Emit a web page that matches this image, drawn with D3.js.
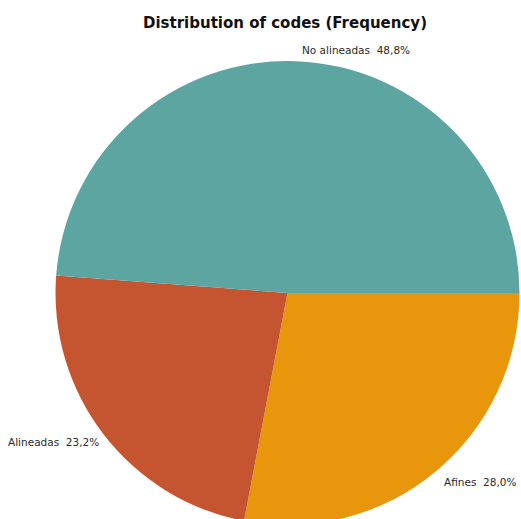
<!DOCTYPE html>
<html>
<head>
<meta charset="utf-8">
<script src="https://cdn.jsdelivr.net/npm/d3@7/dist/d3.min.js"></script>
<style>
  html, body { margin: 0; padding: 0; background: #ffffff; }
  svg { display: block; }
</style>
</head>
<body>
<svg id="chart" width="521" height="519"></svg>
<script>
// Slice data, in drawing order (clockwise from 3 o'clock)
const categories = ["Afines", "Alineadas", "No alineadas"];
const percentages = [28.0, 23.2, 48.8];
const sliceColors = ["#E8960C", "#C55431", "#5CA5A0"];
const chartTitle = "Distribution of codes (Frequency)";

const svg = d3.select("#chart");
const cx = 287.5, cy = 293, radius = 232;

const pie = d3.pie()
  .sort(null)
  .value(d => d.value)
  .startAngle(Math.PI / 2)
  .endAngle(Math.PI / 2 + 2 * Math.PI);

const data = categories.map((c, i) => ({ name: c, value: percentages[i], color: sliceColors[i] }));
const arcs = pie(data);
const arc = d3.arc().innerRadius(0).outerRadius(radius);

const g = svg.append("g").attr("transform", `translate(${cx},${cy})`);
g.selectAll("path.slice")
  .data(arcs)
  .enter().append("path")
  .attr("class", "slice")
  .attr("d", arc)
  .attr("fill", d => d.data.color);

// Title
svg.append("text")
  .attr("x", 285)
  .attr("y", 28)
  .attr("text-anchor", "middle")
  .attr("font-family", "DejaVu Sans, Verdana, sans-serif")
  .attr("font-weight", "bold")
  .attr("font-size", 15)
  .attr("fill", "#111")
  .text(chartTitle);

// Outside labels
const fmt = v => v.toFixed(1).replace(".", ",") + "%";
const labelPos = {
  "No alineadas": { x: 302, y: 54 },
  "Alineadas": { x: 8, y: 446 },
  "Afines": { x: 444, y: 486 }
};
svg.selectAll("text.lbl")
  .data(arcs)
  .enter().append("text")
  .attr("class", "lbl")
  .attr("x", d => labelPos[d.data.name].x)
  .attr("y", d => labelPos[d.data.name].y)
  .attr("font-family", "DejaVu Sans, Verdana, sans-serif")
  .attr("font-size", 10.5)
  .attr("fill", "#2a2a2a")
  .attr("xml:space", "preserve")
  .text(d => d.data.name + "  " + fmt(d.data.value));
</script>
</body>
</html>
